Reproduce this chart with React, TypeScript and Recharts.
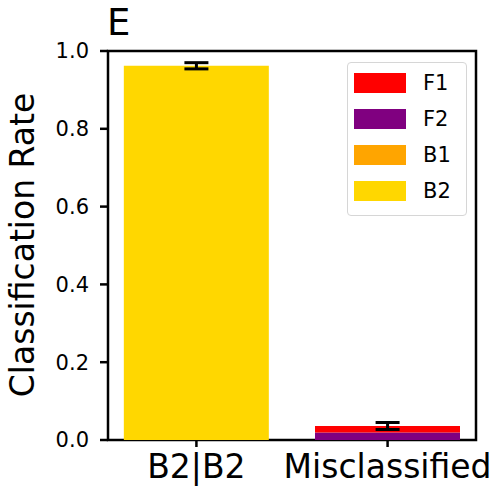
import React from 'react';
import { ComposedChart, Bar, Scatter, ErrorBar, XAxis, YAxis, ReferenceArea, Legend } from 'recharts';

const categories = ['B2|B2', 'Misclassified'];
const f1Values = [0, 0.017];
const f2Values = [0, 0.019];
const b1Values = [0, 0];
const b2Values = [0.962, 0];
const totalValues = [0.962, 0.036];
const errorValues = [0.008, 0.009];
const yTicks = [0, 0.2, 0.4, 0.6, 0.8, 1.0];
const xTicks = [0, 1];
const seriesNames = ['F1', 'F2', 'B1', 'B2'];
const seriesColors = ['#ff0000', '#800080', '#ffa500', '#ffd700'];

const data = categories.map((c, i) => ({
  x: i,
  name: c,
  F1: f1Values[i],
  F2: f2Values[i],
  B1: b1Values[i],
  B2: b2Values[i],
  total: totalValues[i],
  err: errorValues[i],
}));

const FONT = '"DejaVu Sans", sans-serif';

const renderLegend = () => (
  <div
    style={{
      position: 'relative',
      width: 120,
      height: 154,
      boxSizing: 'border-box',
      border: '1.5px solid #d6d6d6',
      borderRadius: 4,
      background: 'rgba(255,255,255,0.8)',
      fontFamily: FONT,
    }}
  >
    {seriesNames.map((n, i) => (
      <div key={n} style={{ position: 'absolute', left: 6, top: 10 + i * 36, height: 20, display: 'flex', alignItems: 'center' }}>
        <div style={{ width: 52, height: 20, background: seriesColors[i] }} />
        <span style={{ marginLeft: 17, fontSize: 21, lineHeight: '20px', color: '#000' }}>{n}</span>
      </div>
    ))}
  </div>
);

const yLabel = () => (
  <text
    x={34}
    y={245}
    transform="rotate(-90 34 245)"
    textAnchor="middle"
    fontSize={33}
    fontFamily={FONT}
    fill="#000"
  >
    Classification Rate
  </text>
);

export default function App() {
  return (
    <div style={{ position: 'absolute', left: 0, top: 0, width: 501, height: 491, background: '#fff' }}>
      <ComposedChart
        width={501}
        height={491}
        data={data}
        margin={{ top: 51, right: 25, bottom: 0, left: 0 }}
      >
        <XAxis
          type="number"
          dataKey="x"
          domain={[-0.4625, 1.4625]}
          allowDataOverflow
          ticks={xTicks}
          tickFormatter={(v: number) => categories[v]}
          height={51}
          axisLine={false}
          tickLine={{ stroke: '#000', strokeWidth: 2.5 }}
          tickSize={7}
          tickMargin={8}
          tick={{ fontSize: 33, fill: '#000', fontFamily: FONT }}
          interval={0}
        />
        <YAxis
          type="number"
          domain={[0, 1]}
          allowDataOverflow
          ticks={yTicks}
          tickFormatter={(v: number) => v.toFixed(1)}
          width={108}
          axisLine={false}
          tickLine={{ stroke: '#000', strokeWidth: 2.5 }}
          tickSize={8}
          tickMargin={11}
          tick={{ fontSize: 21, fill: '#000', fontFamily: FONT }}
          label={yLabel}
        />
        <Legend
          layout="vertical"
          align="center"
          verticalAlign="middle"
          content={renderLegend}
          wrapperStyle={{ position: 'absolute', left: 347, top: 62, width: 120, height: 154 }}
        />
        <Bar dataKey="F2" stackId="s" fill={seriesColors[1]} barSize={145} isAnimationActive={false} />
        <Bar dataKey="F1" stackId="s" fill={seriesColors[0]} barSize={145} isAnimationActive={false} />
        <Bar dataKey="B1" stackId="s" fill={seriesColors[2]} barSize={145} isAnimationActive={false} />
        <Bar dataKey="B2" stackId="s" fill={seriesColors[3]} barSize={145} isAnimationActive={false} />
        <Scatter dataKey="total" shape={() => <g />} isAnimationActive={false}>
          <ErrorBar dataKey="err" direction="y" width={12} stroke="#000" strokeWidth={3} isAnimationActive={false} />
        </Scatter>
        <ReferenceArea
          x1={-0.4625}
          x2={1.4625}
          y1={0}
          y2={1}
          fill="none"
          fillOpacity={0}
          stroke="#000"
          strokeWidth={2.5}
          ifOverflow="visible"
        />
      </ComposedChart>
      <svg
        width={501}
        height={50}
        style={{ position: 'absolute', left: 0, top: 0, pointerEvents: 'none' }}
      >
        <text x={107} y={35} fontSize={37} fontFamily={FONT} fill="#000">
          E
        </text>
      </svg>
    </div>
  );
}
